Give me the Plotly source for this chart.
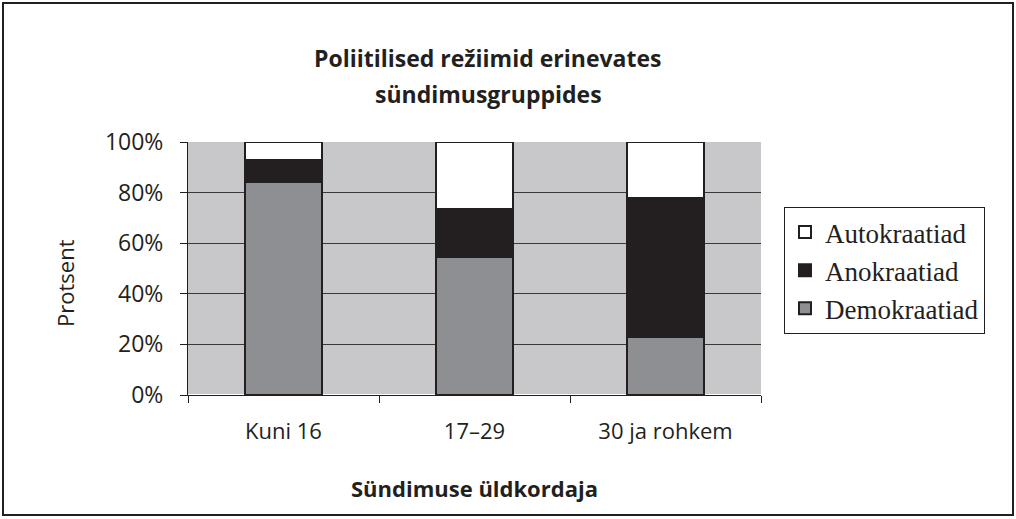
import plotly.graph_objects as go

categories = ["Kuni 16", "17–29", "30 ja rohkem"]
demokraatiad = [84, 54.5, 23]
anokraatiad = [9, 19, 55]
autokraatiad = [7, 26.5, 22]
y_ticks = [0, 20, 40, 60, 80, 100]
y_tick_labels = ["0%", "20%", "40%", "60%", "80%", "100%"]

fig = go.Figure()
fig.add_trace(go.Bar(name="Demokraatiad", x=categories, y=demokraatiad,
                     marker=dict(color="#8e8f93", line=dict(color="#231f20", width=2))))
fig.add_trace(go.Bar(name="Anokraatiad", x=categories, y=anokraatiad,
                     marker=dict(color="#231f20", line=dict(color="#231f20", width=2))))
fig.add_trace(go.Bar(name="Autokraatiad", x=categories, y=autokraatiad,
                     marker=dict(color="#ffffff", line=dict(color="#231f20", width=2))))

L, R, T, B = 188, 761, 142, 395
W, H = 1016, 519
pw, ph = R - L, B - T

def px(x):
    return (x - L) / pw

def py(y):
    return (B - y) / ph

SANS = "Open Sans, Lato, sans-serif"

fig.update_layout(
    barmode="stack",
    bargap=0.6,
    width=W, height=H,
    margin=dict(l=L, r=W - R, t=T, b=H - B),
    paper_bgcolor="white",
    plot_bgcolor="#c8c8ca",
    font=dict(family=SANS, color="#231f20", size=21),
    legend=dict(traceorder="reversed", x=px(784), xanchor="left",
                y=py(207), yanchor="top",
                bordercolor="#231f20", borderwidth=1, bgcolor="white",
                font=dict(family="Liberation Serif, serif", size=27),
                itemwidth=30, tracegroupgap=0),
    xaxis=dict(tickson="boundaries", ticks="outside", ticklen=7, tickcolor="#231f20",
               showline=True, linecolor="#231f20", linewidth=1, showgrid=False,
               tickfont=dict(size=22), ticklabelstandoff=17),
    yaxis=dict(range=[0, 100], tickvals=y_ticks, ticktext=y_tick_labels,
               ticks="outside", ticklen=7, tickcolor="#231f20",
               showline=True, linecolor="#231f20", linewidth=1,
               gridcolor="#3a3a3a", gridwidth=1, tickfont=dict(size=23),
               ticklabelstandoff=12),
    annotations=[
        dict(text="<b>Poliitilised režiimid erinevates</b>", xref="paper", yref="paper",
             x=px(488), y=py(58), xanchor="center", yanchor="middle", showarrow=False,
             font=dict(size=23, family=SANS)),
        dict(text="<b>sündimusgruppides</b>", xref="paper", yref="paper",
             x=px(488), y=py(94), xanchor="center", yanchor="middle", showarrow=False,
             font=dict(size=23, family=SANS)),
        dict(text="<b>Sündimuse üldkordaja</b>", xref="paper", yref="paper",
             x=px(474), y=py(488), xanchor="center", yanchor="middle", showarrow=False,
             font=dict(size=22, family=SANS)),
        dict(text="Protsent", xref="paper", yref="paper", textangle=-90,
             x=px(65), y=py(283), xanchor="center", yanchor="middle", showarrow=False,
             font=dict(size=22, family=SANS)),
    ],
    shapes=[dict(type="rect", xref="paper", yref="paper",
                 x0=px(3), x1=px(1013), y0=py(515), y1=py(3),
                 line=dict(color="#231f20", width=2), layer="below")],
)

fig.write_html("out.html", config={"displayModeBar": False},
               post_script="document.body.style.margin='0';document.body.style.overflow='hidden';")
